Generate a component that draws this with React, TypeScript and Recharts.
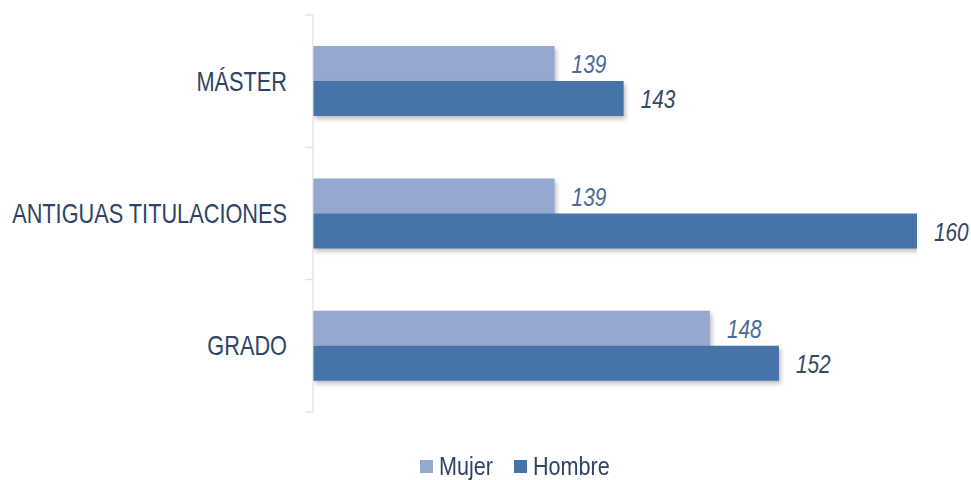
import React from "react";
import { BarChart, Bar, XAxis, YAxis, Legend, LabelList } from "recharts";

const categories = ["MÁSTER", "ANTIGUAS TITULACIONES", "GRADO"];
const mujer = [139, 139, 148];
const hombre = [143, 160, 152];

const data = categories.map((name, i) => ({
  name,
  Mujer: mujer[i],
  Hombre: hombre[i],
}));

// narrow look: Liberation Sans squeezed horizontally
const FONT = "'Liberation Sans', Arial, sans-serif";
const LIGHT = "#95a9d0";
const DARK = "#4673a8";
const TEXT = "#2e4466";

const CategoryTick = (props: any) => {
  const { x, y, payload, index, visibleTicksCount } = props;
  const half = payload.offset || 0;
  const axisX = x + 8;
  return (
    <g>
      <line x1={axisX - 8} x2={axisX} y1={y - half} y2={y - half} stroke="#d9d9d9" />
      {index === visibleTicksCount - 1 && (
        <line x1={axisX - 8} x2={axisX} y1={y + half} y2={y + half} stroke="#d9d9d9" />
      )}
      <text
        transform={`translate(${x - 18},${y}) scale(0.805,1)`}
        textAnchor="end"
        dominantBaseline="central"
        fill={TEXT}
        fontSize={27}
        fontFamily={FONT}
      >
        {payload.value}
      </text>
    </g>
  );
};

const valueLabel = (color: string) => (props: any) => {
  const { x, y, width, height, value } = props;
  return (
    <text
      transform={`translate(${x + width + 17},${y + height / 2 + 1}) scale(0.8,1)`}
      dominantBaseline="central"
      fill={color}
      fontSize={26}
      fontStyle="italic"
      fontFamily={FONT}
    >
      {value}
    </text>
  );
};

const legendText = (label: string, w: number) => (
  <span style={{ display: "inline-block", width: w, whiteSpace: "nowrap" }}>
    <span style={{ display: "inline-block", transform: "scaleX(0.83)", transformOrigin: "left center" }}>
      {label}
    </span>
  </span>
);

const square = (color: string) => (
  <span style={{ display: "inline-block", width: 13, height: 13, background: color, marginRight: 6 }} />
);

const LegendContent = () => (
  <div
    style={{
      display: "flex",
      alignItems: "center",
      height: 28,
      fontFamily: FONT,
      fontSize: 26,
      color: TEXT,
      paddingLeft: 420,
    }}
  >
    {square(LIGHT)}
    {legendText("Mujer", 75)}
    {square(DARK)}
    {legendText("Hombre", 80)}
  </div>
);

export default function App() {
  return (
    <div style={{ position: "absolute", left: 0, top: 0, background: "#fff" }}>
      <style>{`.recharts-bar-rectangle path { filter: drop-shadow(2px 3px 2px rgba(0,0,0,0.25)); }`}</style>
      <BarChart
        width={971}
        height={480}
        data={data}
        layout="vertical"
        margin={{ top: 15, right: 54, bottom: 40, left: 0 }}
        barCategoryGap="23.5%"
        barGap={0}
      >
        <XAxis type="number" domain={[125, 160]} allowDataOverflow hide />
        <YAxis
          type="category"
          dataKey="name"
          width={313}
          axisLine={{ stroke: "#d9d9d9" }}
          tickLine={false}
          tick={<CategoryTick />}
          interval={0}
        />
        <Legend
          verticalAlign="bottom"
          content={<LegendContent />}
          wrapperStyle={{ top: 452, left: 0, width: 971, bottom: "auto" }}
        />
        <Bar dataKey="Mujer" fill={LIGHT} isAnimationActive={false}>
          <LabelList dataKey="Mujer" content={valueLabel("#4a6a98")} />
        </Bar>
        <Bar dataKey="Hombre" fill={DARK} isAnimationActive={false}>
          <LabelList dataKey="Hombre" content={valueLabel("#32486a")} />
        </Bar>
      </BarChart>
    </div>
  );
}
